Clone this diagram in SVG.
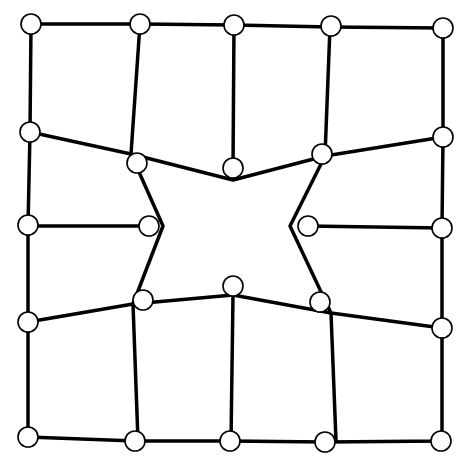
<svg xmlns="http://www.w3.org/2000/svg" width="456" height="457" viewBox="0 0 456 457">
<style>
.e{fill:none;stroke:#000;stroke-width:3.5;stroke-linejoin:round;stroke-linecap:round}
.n{fill:#fff;stroke:#000;stroke-width:1.6}
</style>
<rect width="456" height="457" fill="#fff"/>
<g id="connectors">
<polyline class="e" points="31,24 140,24 234,25 330,27 443,28 443,137 442,228 442,328 442,441 325,442 230,441 135,441 28,437 28,322 28,226 30,132 31,24"/>
<polyline class="e" points="30,132 131,154 233,180 325,156 443,137"/>
<polyline class="e" points="28,322 133,304 233,295 331,313 442,328"/>
<polyline class="e" points="140,24 131,154 163,226 133,304 138,441"/>
<polyline class="e" points="330,27 325,156 290,226 331,313 336,441"/>
<line class="e" x1="234" y1="25" x2="233" y2="168"/>
<line class="e" x1="233" y1="295" x2="231" y2="441"/>
<line class="e" x1="28" y1="226" x2="149" y2="226"/>
<line class="e" x1="308" y1="226" x2="442" y2="228"/>
</g>
<g id="n1"><circle class="n" cx="31" cy="24" r="10"/></g>
<g id="n2"><circle class="n" cx="140" cy="24" r="10"/></g>
<g id="n3"><circle class="n" cx="234" cy="25" r="10"/></g>
<g id="n4"><circle class="n" cx="331" cy="26" r="10"/></g>
<g id="n5"><circle class="n" cx="443" cy="28" r="10"/></g>
<g id="n6"><circle class="n" cx="30" cy="132" r="10"/></g>
<g id="n7"><circle class="n" cx="137" cy="163" r="10"/></g>
<g id="n8"><circle class="n" cx="233" cy="168" r="10"/></g>
<g id="n9"><circle class="n" cx="322" cy="154" r="10"/></g>
<g id="n10"><circle class="n" cx="443" cy="137" r="10"/></g>
<g id="n11"><circle class="n" cx="28" cy="225" r="10"/></g>
<g id="n12"><circle class="n" cx="149" cy="226" r="10"/></g>
<g id="n13"><circle class="n" cx="308" cy="226" r="10"/></g>
<g id="n14"><circle class="n" cx="442" cy="228" r="10"/></g>
<g id="n15"><circle class="n" cx="28" cy="322" r="10"/></g>
<g id="n16"><circle class="n" cx="143" cy="300" r="10"/></g>
<g id="n17"><circle class="n" cx="233" cy="286" r="10"/></g>
<g id="n18"><circle class="n" cx="320" cy="302" r="10"/></g>
<g id="n19"><circle class="n" cx="442" cy="328" r="10"/></g>
<g id="n20"><circle class="n" cx="28" cy="437" r="10"/></g>
<g id="n21"><circle class="n" cx="135" cy="441" r="10"/></g>
<g id="n22"><circle class="n" cx="230" cy="441" r="10"/></g>
<g id="n23"><circle class="n" cx="325" cy="442" r="10"/></g>
<g id="n24"><circle class="n" cx="441" cy="441" r="10"/></g>
</svg>
